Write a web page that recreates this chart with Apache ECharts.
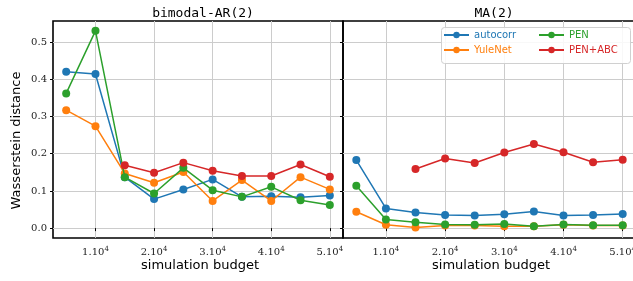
<!DOCTYPE html>
<html>
<head>
<meta charset="utf-8">
<script src="https://cdn.jsdelivr.net/npm/echarts@6/dist/echarts.min.js"></script>
<style>
html, body { margin: 0; padding: 0; background: #ffffff; }
#chart { width: 633px; height: 281px; }
</style>
</head>
<body>
<div id="chart"></div>
<script>
// simulation budgets (x), shared by both panels
var budget = [5000, 10000, 15000, 20000, 25000, 30000, 35000, 40000, 45000, 50000]
var xTicks = [10000, 20000, 30000, 40000, 50000]
var yTicks = [0, 0.1, 0.2, 0.3, 0.4, 0.5]

// bimodal-AR(2)
var arAutocorr = [0.420, 0.414, 0.137, 0.078, 0.104, 0.131, 0.084, 0.086, 0.083, 0.088]
var arYuleNet = [0.317, 0.274, 0.147, 0.122, 0.151, 0.073, 0.129, 0.073, 0.137, 0.104]
var arPen = [0.362, 0.530, 0.137, 0.093, 0.162, 0.102, 0.084, 0.111, 0.075, 0.062]
var arPenAbc = [null, null, 0.169, 0.149, 0.176, 0.154, 0.140, 0.140, 0.171, 0.138]

// MA(2)
var maAutocorr = [0.183, 0.053, 0.042, 0.035, 0.034, 0.037, 0.045, 0.034, 0.035, 0.038]
var maYuleNet = [0.044, 0.009, 0.002, 0.007, 0.007, 0.005, 0.005, 0.009, 0.007, 0.007]
var maPen = [0.114, 0.023, 0.016, 0.010, 0.009, 0.011, 0.005, 0.010, 0.008, 0.008]
var maPenAbc = [null, null, 0.159, 0.187, 0.175, 0.203, 0.226, 0.204, 0.177, 0.184]

var names = ['autocorr', 'YuleNet', 'PEN', 'PEN+ABC']
var colors = ['#1f77b4', '#ff7f0e', '#2ca02c', '#d62728']

var gridCol = '#cccccc'
var serif = 'DejaVu Serif'

function pairs(vals) {
  var out = []
  for (var i = 0; i < budget.length; i++) {
    if (vals[i] !== null) out.push([budget[i], vals[i]])
  }
  return out
}

function mkSeries(idx, vals, gi) {
  return {
    name: names[idx],
    type: 'line',
    xAxisIndex: gi,
    yAxisIndex: gi,
    data: pairs(vals),
    symbol: 'circle',
    symbolSize: 8,
    showSymbol: true,
    animation: false,
    z: 2 + idx,
    itemStyle: { color: colors[idx] },
    lineStyle: { color: colors[idx], width: 1.5 }
  }
}

function xAxisOpt(gi) {
  return {
    type: 'value',
    gridIndex: gi,
    min: 2750,
    max: 52250,
    axisLine: { show: false },
    axisTick: { show: true, customValues: xTicks, length: 3, lineStyle: { color: '#000' } },
    axisLabel: {
      customValues: xTicks,
      margin: 8,
      formatter: function(v) {
        return '{b|' + (v / 10000) + '.10}{s|4}'
      },
      rich: {
        b: { fontFamily: serif, fontSize: 10, color: '#222' },
        s: { fontFamily: serif, fontSize: 7, color: '#222', padding: [0, 0, 6, 0] }
      }
    },
    splitLine: { show: true, lineStyle: { color: gridCol, width: 1 } }
  }
}

function yAxisOpt(gi, labels) {
  return {
    type: 'value',
    gridIndex: gi,
    min: -0.0265,
    max: 0.5565,
    axisLine: { show: false },
    axisTick: { show: true, customValues: yTicks, length: 3, lineStyle: { color: '#000' } },
    axisLabel: {
      show: labels,
      customValues: yTicks,
      margin: 6,
      fontFamily: serif,
      fontSize: 10,
      color: '#222',
      formatter: function(v) { return v.toFixed(1) }
    },
    splitLine: { show: true, lineStyle: { color: gridCol, width: 1 } }
  }
}

var chart = echarts.init(document.getElementById('chart'), null, { renderer: 'canvas' })

var legendText = { fontFamily: 'DejaVu Sans', fontSize: 10 }
var titleText = { fontFamily: 'DejaVu Sans Mono', fontSize: 13, fontWeight: 'normal', color: '#000' }

var option = {
  backgroundColor: '#ffffff',
  animation: false,
  title: [
    { text: 'bimodal-AR(2)', left: 198, top: 2, textAlign: 'center', textStyle: titleText },
    { text: 'MA(2)', left: 489, top: 2, textAlign: 'center', textStyle: titleText }
  ],
  grid: [
    { left: 53, top: 21, width: 290, height: 217, outerBoundsMode: 'none', containLabel: false,
      show: true, borderColor: '#000', borderWidth: 1.6, backgroundColor: 'transparent' },
    { left: 343, top: 21, width: 293, height: 217, outerBoundsMode: 'none', containLabel: false,
      show: true, borderColor: '#000', borderWidth: 1.6, backgroundColor: 'transparent' }
  ],
  xAxis: [xAxisOpt(0), xAxisOpt(1)],
  yAxis: [yAxisOpt(0, true), yAxisOpt(1, false)],
  legend: [
    {
      data: [
        { name: 'autocorr', textStyle: { color: colors[0] } },
        { name: 'YuleNet', textStyle: { color: colors[1] } }
      ],
      orient: 'vertical',
      left: 441, top: 28, z: 20,
      itemWidth: 25, itemHeight: 8, itemGap: 5,
      padding: 2,
      textStyle: legendText
    },
    {
      data: [
        { name: 'PEN', textStyle: { color: colors[2] } },
        { name: 'PEN+ABC', textStyle: { color: colors[3] } }
      ],
      orient: 'vertical',
      left: 536, top: 28, z: 20,
      itemWidth: 25, itemHeight: 8, itemGap: 5,
      padding: 2,
      textStyle: legendText
    }
  ],
  graphic: [
    {
      type: 'rect', left: 441, top: 27, z: 10,
      shape: { width: 189, height: 36, r: 3 },
      style: { fill: 'rgba(255,255,255,0.85)', stroke: '#d0d0d0', lineWidth: 1 }
    },
    {
      type: 'text', left: 10, top: 'middle', rotation: Math.PI / 2, z: 60,
      style: { text: 'Wasserstein distance', font: '13px "DejaVu Sans"', fill: '#000' }
    },
    {
      type: 'text', left: 141, top: 259, z: 60,
      style: { text: 'simulation budget', font: '13px "DejaVu Sans"', fill: '#000' }
    },
    {
      type: 'text', left: 432, top: 259, z: 60,
      style: { text: 'simulation budget', font: '13px "DejaVu Sans"', fill: '#000' }
    }
  ],
  series: [
    mkSeries(0, arAutocorr, 0),
    mkSeries(1, arYuleNet, 0),
    mkSeries(2, arPen, 0),
    mkSeries(3, arPenAbc, 0),
    mkSeries(0, maAutocorr, 1),
    mkSeries(1, maYuleNet, 1),
    mkSeries(2, maPen, 1),
    mkSeries(3, maPenAbc, 1)
  ]
}

chart.setOption(option)
window.addEventListener('resize', () => {
  chart.resize()
})
</script>
</body>
</html>
